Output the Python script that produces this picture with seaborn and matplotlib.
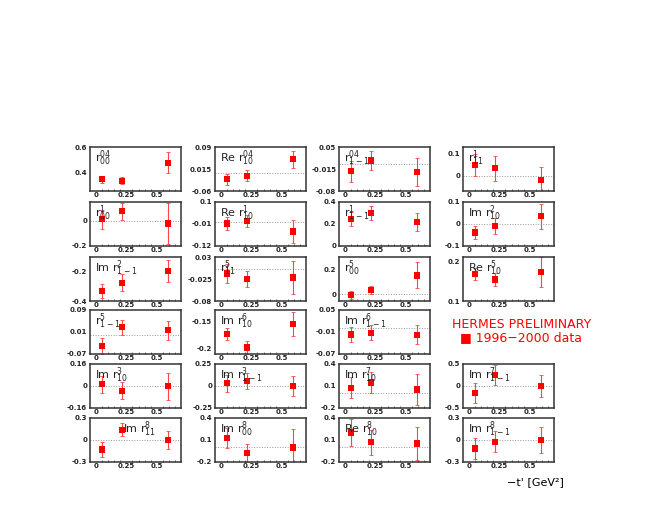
import matplotlib
matplotlib.use("Agg")
import matplotlib.pyplot as plt
import seaborn as sns

# -t' bin centres (same for every panel)
t_bins = [0.05, 0.215, 0.595]

# panel labels, reading order (cell row 4 / col 4 holds the legend)
labels = [
    r"$\mathrm{r^{04}_{00}}$", r"Re $\mathrm{r^{04}_{10}}$", r"$\mathrm{r^{04}_{1-1}}$", r"$\mathrm{r^{1}_{11}}$",
    r"$\mathrm{r^{1}_{00}}$", r"Re $\mathrm{r^{1}_{10}}$", r"$\mathrm{r^{1}_{1-1}}$", r"Im $\mathrm{r^{2}_{10}}$",
    r"Im $\mathrm{r^{2}_{1-1}}$", r"$\mathrm{r^{5}_{11}}$", r"$\mathrm{r^{5}_{00}}$", r"Re $\mathrm{r^{5}_{10}}$",
    r"$\mathrm{r^{5}_{1-1}}$", r"Im $\mathrm{r^{6}_{10}}$", r"Im $\mathrm{r^{6}_{1-1}}$",
    r"Im $\mathrm{r^{3}_{10}}$", r"Im $\mathrm{r^{3}_{1-1}}$", r"Im $\mathrm{r^{7}_{10}}$", r"Im $\mathrm{r^{7}_{1-1}}$",
    r"Im $\mathrm{r^{8}_{11}}$", r"Im $\mathrm{r^{8}_{00}}$", r"Re $\mathrm{r^{8}_{10}}$", r"Im $\mathrm{r^{8}_{1-1}}$",
]

values = [
    [0.343, 0.332, 0.475], [-0.020, -0.008, 0.048], [-0.022, 0.010, -0.024], [0.049, 0.034, -0.020],
    [0.013, 0.076, -0.021], [-0.007, 0.005, -0.047], [0.245, 0.297, 0.215], [-0.039, -0.008, 0.036],
    [-0.332, -0.275, -0.195], [-0.011, -0.025, -0.021], [-0.008, 0.033, 0.151], [0.168, 0.154, 0.172],
    [-0.041, 0.027, 0.016], [-0.173, -0.198, -0.154], [-0.017, -0.012, -0.018],
    [0.012, -0.034, -0.002], [0.031, 0.061, -0.004], [0.076, 0.148, 0.052], [-0.160, 0.254, 0.0],
    [-0.129, 0.138, 0.0], [0.128, -0.075, -0.002], [0.203, 0.072, 0.053], [-0.116, -0.024, 0.0],
]

errors = [
    [0.030, 0.030, 0.083], [0.018, 0.018, 0.028], [0.031, 0.029, 0.042], [0.050, 0.057, 0.060],
    [0.074, 0.070, 0.166], [0.033, 0.031, 0.057], [0.065, 0.065, 0.083], [0.029, 0.036, 0.057],
    [0.048, 0.057, 0.075], [0.023, 0.020, 0.041], [0.030, 0.034, 0.105], [0.015, 0.016, 0.037],
    [0.028, 0.028, 0.034], [0.011, 0.0125, 0.023], [0.0215, 0.021, 0.026],
    [0.064, 0.062, 0.100], [0.096, 0.092, 0.115], [0.140, 0.140, 0.210], [0.230, 0.230, 0.260],
    [0.108, 0.088, 0.127], [0.140, 0.125, 0.250], [0.190, 0.170, 0.220], [0.145, 0.145, 0.180],
]

y_limits = [
    (0.25, 0.6), (-0.06, 0.09), (-0.08, 0.05), (-0.07, 0.13),
    (-0.2, 0.15), (-0.12, 0.1), (0.0, 0.4), (-0.1, 0.1),
    (-0.4, -0.1), (-0.08, 0.03), (-0.055, 0.3), (0.1, 0.21),
    (-0.07, 0.09), (-0.21, -0.128), (-0.07, 0.05),
    (-0.16, 0.16), (-0.25, 0.25), (-0.2, 0.4), (-0.5, 0.5),
    (-0.3, 0.3), (-0.2, 0.4), (-0.2, 0.4), (-0.3, 0.3),
]

y_ticks = [
    [0.4, 0.6], [-0.06, 0.015, 0.09], [-0.08, -0.015, 0.05], [0, 0.1],
    [-0.2, 0], [-0.12, -0.01, 0.1], [0, 0.2, 0.4], [-0.1, 0, 0.1],
    [-0.4, -0.2], [-0.08, -0.025, 0.03], [0, 0.2], [0.1, 0.2],
    [-0.07, 0.01, 0.09], [-0.2, -0.15], [-0.07, -0.01, 0.05],
    [-0.16, 0, 0.16], [-0.25, 0, 0.25], [-0.2, 0.1, 0.4], [-0.5, 0, 0.5],
    [-0.3, 0, 0.3], [-0.2, 0.1, 0.4], [-0.2, 0.1, 0.4], [-0.3, 0, 0.3],
]

x_ticks = [0, 0.25, 0.5]

sns.set_style("white")
plt.rcParams["font.family"] = ["DejaVu Sans"]

W, H = 654, 518
fig = plt.figure(figsize=(W / 100, H / 100), dpi=100)

col_left = [90, 215, 339, 463]
row_top = [147, 202, 257, 310, 364, 418]
pw, ph = 91, 44

cells = [(r, c) for r in range(6) for c in range(4) if (r, c) != (3, 3)]
label_x = {19: 0.36}

for i, (r, c) in enumerate(cells):
    ax = fig.add_axes([col_left[c] / W, 1 - (row_top[r] + ph) / H, pw / W, ph / H])
    lo, hi = y_limits[i]
    if lo < 0 < hi:
        ax.axhline(0, color="#999999", ls=":", lw=0.7, zorder=1)
    ax.errorbar(t_bins, values[i], yerr=errors[i], fmt="none", ecolor="#ff4545",
                elinewidth=0.8, capsize=1.3, capthick=0.6, zorder=2)
    sns.scatterplot(x=t_bins, y=values[i], marker="s", color="red", s=20,
                    edgecolor="none", ax=ax, zorder=3)
    ax.set_xlim(-0.05, 0.7)
    ax.set_ylim(lo, hi)
    ax.set_xticks(x_ticks)
    ax.set_xticks([k * 0.05 for k in range(14)], minor=True)
    ax.set_xticklabels(["0", "0.25", "0.5"])
    ax.set_yticks(y_ticks[i])
    ax.set_yticklabels(["%g" % v for v in y_ticks[i]])
    ax.tick_params(axis="both", which="major", direction="in", length=3, width=0.6,
                   labelsize=5, pad=2, colors="#222222")
    ax.tick_params(axis="x", which="minor", direction="in", length=1.6, width=0.5, bottom=True)
    ax.tick_params(axis="x", which="major", pad=1)
    for lab in ax.get_xticklabels() + ax.get_yticklabels():
        lab.set_fontweight("bold")
    for sp in ax.spines.values():
        sp.set_linewidth(1.1)
        sp.set_color("#333333")
    ax.text(label_x.get(i, 0.06), 0.74, labels[i], transform=ax.transAxes,
            fontsize=8, ha="left", va="center", color="#222222")

fig.text(522 / W, 1 - 324 / H, "HERMES PRELIMINARY", color="red", fontsize=9,
         ha="center", va="center")
fig.text(460 / W, 1 - 338 / H, "■ 1996−2000 data", color="red", fontsize=9,
         ha="left", va="center")
fig.text(535 / W, 1 - 482 / H, "−t' [GeV²]", color="black", fontsize=8,
         ha="center", va="center")

fig.savefig("out.png", dpi=100, facecolor="white")
